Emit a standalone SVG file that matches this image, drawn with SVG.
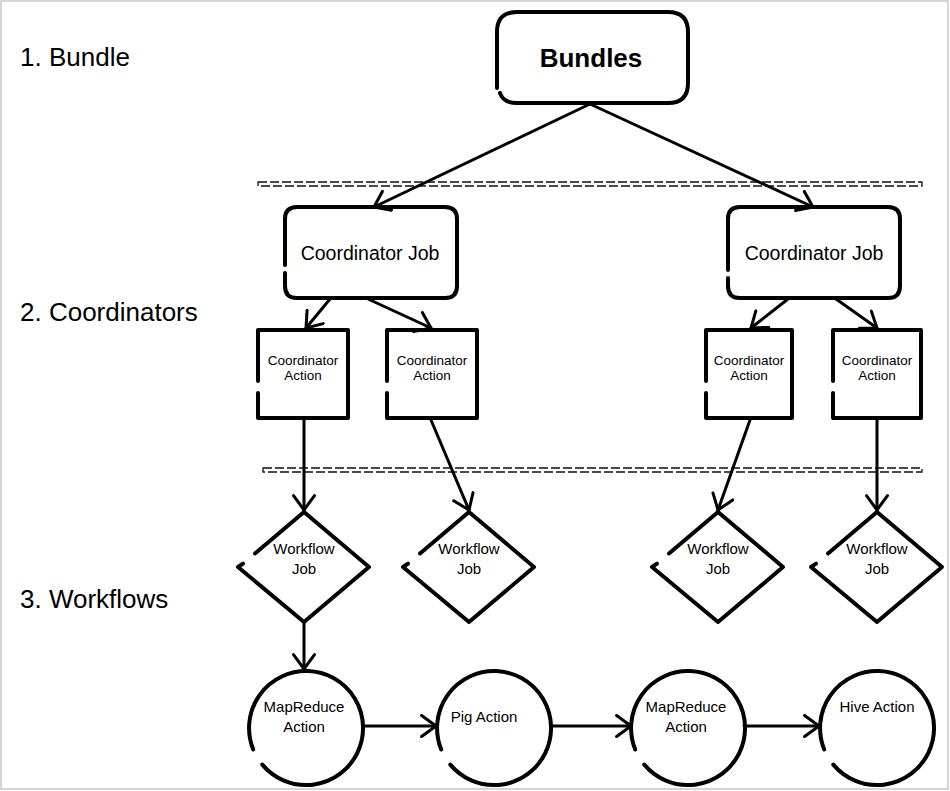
<svg xmlns="http://www.w3.org/2000/svg" width="950" height="791" viewBox="0 0 950 791">
<defs>
<style>
.t{font-family:"Liberation Sans",Arial,Helvetica,sans-serif;fill:#000;text-anchor:middle}
.lbl{font-family:"Liberation Sans",Arial,Helvetica,sans-serif;font-size:26px;fill:#000}
.sh{fill:none;stroke:#000;stroke-width:4;stroke-linecap:round;stroke-linejoin:round}
.cn{fill:none;stroke:#000;stroke-width:3;stroke-linecap:round}
.sep{fill:none;stroke:#111;stroke-width:1.3;stroke-dasharray:9 3}
</style>
<marker id="ah" viewBox="0 0 22 24" refX="18" refY="12" markerWidth="22" markerHeight="24" markerUnits="userSpaceOnUse" orient="auto">
<path d="M3.6,1.5 L18,12 L3.6,22.5" fill="none" stroke="#000" stroke-width="3" stroke-linecap="round" stroke-linejoin="round"/>
</marker>
</defs>
<rect x="0" y="0" width="950" height="791" fill="#fff"/>
<rect x="1" y="1" width="947" height="788" fill="none" stroke="#c8c8c8" stroke-width="1.5"/>

<g id="labels">
<text class="lbl" x="20" y="66">1. Bundle</text>
<text class="lbl" x="20" y="321">2. Coordinators</text>
<text class="lbl" x="20" y="608">3. Workflows</text>
</g>

<g id="separators">
<rect class="sep" x="258" y="182" width="664" height="4"/>
<rect class="sep" x="263" y="468" width="659" height="4"/>
</g>

<g id="connectors">
<line class="cn" x1="590" y1="104" x2="374" y2="207" marker-end="url(#ah)"/>
<line class="cn" x1="590" y1="104" x2="813" y2="207" marker-end="url(#ah)"/>
<line class="cn" x1="330" y1="299" x2="306" y2="328" marker-end="url(#ah)"/>
<line class="cn" x1="368" y1="299" x2="431" y2="328" marker-end="url(#ah)"/>
<line class="cn" x1="788" y1="299" x2="751" y2="328" marker-end="url(#ah)"/>
<line class="cn" x1="836" y1="299" x2="877" y2="328" marker-end="url(#ah)"/>
<line class="cn" x1="304" y1="420" x2="304" y2="510" marker-end="url(#ah)"/>
<line class="cn" x1="431" y1="420" x2="469" y2="510" marker-end="url(#ah)"/>
<line class="cn" x1="750" y1="420" x2="718" y2="510" marker-end="url(#ah)"/>
<line class="cn" x1="877" y1="420" x2="877" y2="510" marker-end="url(#ah)"/>
<line class="cn" x1="304" y1="622" x2="304" y2="669" marker-end="url(#ah)"/>
<line class="cn" x1="363" y1="726" x2="436" y2="726" marker-end="url(#ah)"/>
<line class="cn" x1="551" y1="726" x2="631" y2="726" marker-end="url(#ah)"/>
<line class="cn" x1="744" y1="726" x2="819" y2="726" marker-end="url(#ah)"/>
</g>

<g id="bundles">
<path class="sh" d="M497,88 L497,32 Q497,12 517,12 L668,12 Q688,12 688,32 L688,83 Q688,103 668,103 L517,103 Q503,103 500,93"/>
<text class="t" x="591" y="66.5" font-size="26" font-weight="bold">Bundles</text>
</g>

<g id="coordjob1">
<path class="sh" d="M285,273 L285,286 Q285,298 297,298 L445,298 Q457,298 457,286 L457,219 Q457,207 445,207 L297,207 Q285,207 285,219 L285,265"/>
<text class="t" x="370" y="260" font-size="19.5">Coordinator Job</text>
</g>
<g id="coordjob2">
<path class="sh" d="M728,278 L728,286 Q728,298 740,298 L888,298 Q900,298 900,286 L900,219 Q900,207 888,207 L740,207 Q728,207 728,219 L728,270"/>
<text class="t" x="814" y="260" font-size="19.5">Coordinator Job</text>
</g>

<g id="coordaction1">
<path class="sh" d="M258,393 L258,418 L348,418 L348,330 L258,330 L258,381"/>
<text class="t" x="303" y="365" font-size="13.5">Coordinator</text>
<text class="t" x="303" y="380" font-size="13.5">Action</text>
</g>
<g id="coordaction2">
<path class="sh" d="M387,393 L387,418 L477,418 L477,330 L387,330 L387,381"/>
<text class="t" x="432" y="365" font-size="13.5">Coordinator</text>
<text class="t" x="432" y="380" font-size="13.5">Action</text>
</g>
<g id="coordaction3">
<path class="sh" d="M706,393 L706,418 L792,418 L792,330 L706,330 L706,381"/>
<text class="t" x="749" y="365" font-size="13.5">Coordinator</text>
<text class="t" x="749" y="380" font-size="13.5">Action</text>
</g>
<g id="coordaction4">
<path class="sh" d="M833,393 L833,418 L921,418 L921,330 L833,330 L833,381"/>
<text class="t" x="877" y="365" font-size="13.5">Coordinator</text>
<text class="t" x="877" y="380" font-size="13.5">Action</text>
</g>

<g id="workflow1">
<path class="sh" d="M255,553.5 L304,512 L369,567 L304,622 L238,567 L243,563.6"/>
<text class="t" x="304" y="553.5" font-size="15">Workflow</text>
<text class="t" x="304" y="573.5" font-size="15">Job</text>
</g>
<g id="workflow2">
<path class="sh" d="M420,553.5 L469,512 L534,567 L469,622 L403,567 L408,563.6"/>
<text class="t" x="469" y="553.5" font-size="15">Workflow</text>
<text class="t" x="469" y="573.5" font-size="15">Job</text>
</g>
<g id="workflow3">
<path class="sh" d="M669,553.5 L718,512 L783,567 L718,622 L652,567 L657,563.6"/>
<text class="t" x="718" y="553.5" font-size="15">Workflow</text>
<text class="t" x="718" y="573.5" font-size="15">Job</text>
</g>
<g id="workflow4">
<path class="sh" d="M828,553.5 L877,512 L942,567 L877,622 L811,567 L816,563.6"/>
<text class="t" x="877" y="553.5" font-size="15">Workflow</text>
<text class="t" x="877" y="573.5" font-size="15">Job</text>
</g>

<g id="mapreduce1">
<path class="sh" d="M262.3,764.6 A57,57 0 1 0 253.2,749.4"/>
<text class="t" x="304" y="712" font-size="15">MapReduce</text>
<text class="t" x="304" y="732" font-size="15">Action</text>
</g>
<g id="pig">
<path class="sh" d="M450.3,764.6 A57,57 0 1 0 441.2,749.4"/>
<text class="t" x="484" y="722" font-size="15">Pig Action</text>
</g>
<g id="mapreduce2">
<path class="sh" d="M644.3,764.6 A57,57 0 1 0 635.2,749.4"/>
<text class="t" x="686" y="712" font-size="15">MapReduce</text>
<text class="t" x="686" y="732" font-size="15">Action</text>
</g>
<g id="hive">
<path class="sh" d="M833.3,764.6 A57,57 0 1 0 824.2,749.4"/>
<text class="t" x="877" y="712" font-size="15">Hive Action</text>
</g>
</svg>
